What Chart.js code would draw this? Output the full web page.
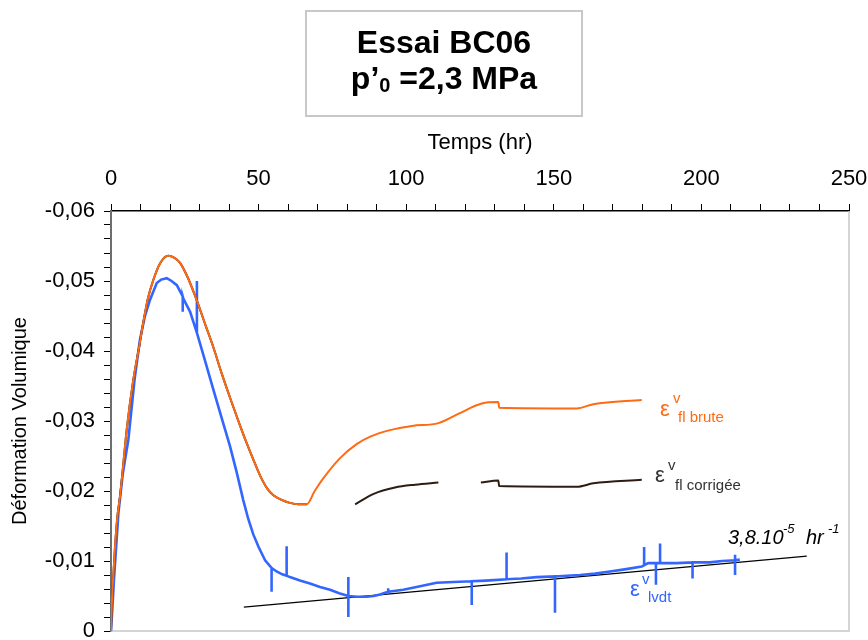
<!DOCTYPE html>
<html>
<head>
<meta charset="utf-8">
<script src="https://cdn.jsdelivr.net/npm/chart.js@4.4.0/dist/chart.umd.min.js"></script>
<style>
  html, body { margin: 0; padding: 0; background: #fff; }
  #wrap { position: relative; width: 868px; height: 640px; font-family: "Liberation Sans", Arial, sans-serif; }
  #chart { position: absolute; left: 0; top: 0; }
  .titlebox { position: absolute; left: 305px; top: 10px; width: 274px; height: 103px;
    border: 2px solid #c8c8c8; text-align: center; font-weight: bold; font-size: 32px; line-height: 36px; color: #000; }
  .titlebox .in { padding-top: 12px; }
  .titlebox sub { font-size: 20px; vertical-align: -3px; line-height: 0; }
  .t { position: absolute; line-height: 1; white-space: nowrap; }
</style>
</head>
<body>
<div id="wrap">
  <canvas id="chart" width="868" height="640"></canvas>
  <div class="titlebox"><div class="in">Essai BC06<br>p’<sub>0</sub> =2,3 MPa</div></div>

  <!-- curve labels -->
  <div class="t" style="left:660px; top:398px; font-size:22px; color:#ff6a13;">ε</div>
  <div class="t" style="left:673px; top:390px; font-size:15px; color:#ff6a13;">v</div>
  <div class="t" style="left:678px; top:409px; font-size:15px; color:#ff6a13;">fl brute</div>

  <div class="t" style="left:655px; top:464px; font-size:22px; color:#333;">ε</div>
  <div class="t" style="left:668px; top:457px; font-size:15px; color:#333;">v</div>
  <div class="t" style="left:675px; top:477px; font-size:15px; color:#333;">fl corrigée</div>

  <div class="t" style="left:630px; top:578px; font-size:22px; color:#3366ff;">ε</div>
  <div class="t" style="left:642px; top:571px; font-size:15px; color:#3366ff;">v</div>
  <div class="t" style="left:648px; top:589px; font-size:15px; color:#3366ff;">lvdt</div>

  <div class="t" style="left:728px; top:527px; font-size:20px; font-style:italic; color:#000;">3,8.10</div>
  <div class="t" style="left:783px; top:522px; font-size:13px; font-style:italic; color:#000;">-5</div>
  <div class="t" style="left:806px; top:527px; font-size:20px; font-style:italic; color:#000;">hr</div>
  <div class="t" style="left:828px; top:522px; font-size:13px; font-style:italic; color:#000;">-1</div>
</div>

<script>
// Temps (hr) et déformation volumique
const tMain = [0, 0.3, 0.57, 1.35, 2.2, 3.05, 4.2, 5.3, 7.56, 9.5, 10.9, 12.5, 14.3, 16.6, 19.4, 21.5, 23.4, 26, 29, 32, 34.7, 37.5, 40.6, 43.5, 46, 48.5, 50.5, 53, 55, 58, 60.6, 63.5, 66.3];
const vMain = [0, -0.004, -0.0063, -0.012, -0.0165, -0.0192, -0.024, -0.0287, -0.0359, -0.0405, -0.044, -0.0475, -0.0501, -0.0525, -0.0536, -0.0533, -0.0526, -0.0505, -0.0473, -0.0437, -0.0405, -0.0368, -0.033, -0.0296, -0.0268, -0.0242, -0.0222, -0.0203, -0.0194, -0.0187, -0.0183, -0.0181, -0.0181];

// fluage brut (suite apres 66 h)
const tBrute = [69, 71.9, 77.6, 83.2, 88, 94.5, 102, 110.9, 118, 125.6, 131.2, 131.5, 157.8, 163.4, 179.8];
const vBrute = [-0.02, -0.0218, -0.0247, -0.0267, -0.0278, -0.0287, -0.0293, -0.0297, -0.0311, -0.0325, -0.0327, -0.0319, -0.0318, -0.0324, -0.033];

// fluage corrige (null = interruption)
const tCorr = [82.7, 89, 96.2, 103, 110.9, 118, 125.3, 131.2, 131.5, 157.8, 163.4, 179.8];
const vCorr = [-0.0181, -0.0196, -0.0205, -0.0209, -0.0212, null, -0.0212, -0.0215, -0.0207, -0.0206, -0.0211, -0.0216];

// LVDT (les pics sont des points repetes au meme temps)
const tLvdt = [0, 0.5, 1, 2.5, 4, 5.87, 8, 9.8, 11.5, 13.2, 15.5, 17, 18.9, 20.5, 22.3, 24.3, 24.3, 24.3, 24.5, 26.8, 29.1, 29.1, 29.1, 31.8, 34.6, 37.3, 40.3, 42.5, 44.8, 46.5, 48.2, 50, 52.2, 54.4, 54.4, 54.4, 56.1, 58, 59.5, 59.5, 59.5, 60.6, 64, 67.4, 70.8, 74.2, 77.3, 80.4, 80.4, 80.4, 80.4, 83.5, 86.6, 89, 91.1, 93.9, 93.9, 93.9, 99, 104.7, 110.3, 116, 122.2, 122.2, 122.2, 127, 134, 134, 134, 139, 144.2, 150.4, 150.4, 150.4, 154.4, 158.9, 164, 169, 174, 179.8, 180.6, 180.6, 180.6, 182, 184.6, 184.6, 184.6, 186, 186, 186, 191.6, 197, 197, 197, 202.9, 207, 211.4, 211.4, 211.4, 211.4, 213];
const vLvdt = [0, -0.0035, -0.0073, -0.0168, -0.0225, -0.0273, -0.036, -0.0416, -0.045, -0.0473, -0.0497, -0.0502, -0.0504, -0.05, -0.0494, -0.0478, -0.0456, -0.0478, -0.0475, -0.0456, -0.0426, -0.05, -0.0426, -0.0387, -0.0346, -0.0307, -0.0264, -0.0228, -0.0187, -0.016, -0.0138, -0.012, -0.0101, -0.009, -0.0056, -0.009, -0.0085, -0.0081, -0.0079, -0.0121, -0.0079, -0.0077, -0.0072, -0.0068, -0.0063, -0.0059, -0.0054, -0.005, -0.0077, -0.002, -0.005, -0.0049, -0.0049, -0.005, -0.0052, -0.0056, -0.0061, -0.0056, -0.0059, -0.0064, -0.0069, -0.007, -0.0071, -0.0037, -0.0071, -0.0072, -0.0074, -0.0112, -0.0074, -0.0075, -0.0077, -0.0078, -0.0026, -0.0078, -0.0079, -0.008, -0.0082, -0.0085, -0.0088, -0.0092, -0.0094, -0.012, -0.0094, -0.0097, -0.0097, -0.0066, -0.0097, -0.0097, -0.0125, -0.0097, -0.0097, -0.0098, -0.0075, -0.0098, -0.0098, -0.01, -0.0101, -0.0109, -0.008, -0.0101, -0.0102];

// pente 3,8.10-5 hr-1
const tPente = [45, 235.7];
const vPente = [-0.0034, -0.0107];

const xTicks = [0, 50, 100, 150, 200, 250];

function pts(ts, vs) {
    return ts.map((t, i) => ({ x: t, y: vs[i] }));
}

const fontAxis = { family: '"Liberation Sans", Arial, sans-serif', size: 22 };

const frame = {
    id: 'frame',
    beforeDatasetsDraw(chart) {
        const a = chart.chartArea, ctx = chart.ctx;
        ctx.save();
        ctx.strokeStyle = '#c8c8c8';
        ctx.lineWidth = 1.5;
        ctx.beginPath();
        ctx.moveTo(a.left, a.bottom);
        ctx.lineTo(a.right, a.bottom);
        ctx.lineTo(a.right, a.top);
        ctx.stroke();
        ctx.restore();
    }
};

const ctx = document.getElementById('chart');
new Chart(ctx, {
    type: 'scatter',
    data: {
        datasets: [
            {
                label: 'brute',
                data: pts(tMain.concat(tBrute), vMain.concat(vBrute)),
                showLine: true, borderColor: '#ff6a13', borderWidth: 2, pointRadius: 0,
                cubicInterpolationMode: 'monotone'
            },
            {
                label: 'corrigee',
                data: pts(tMain, vMain).concat([{ x: 74, y: null }], pts(tCorr, vCorr)),
                showLine: true, borderColor: '#2e1c12', borderWidth: 2, pointRadius: 0, spanGaps: false,
                cubicInterpolationMode: 'monotone'
            },
            {
                label: 'lvdt',
                data: pts(tLvdt, vLvdt),
                showLine: true, borderColor: '#3366ff', borderWidth: 2.6, pointRadius: 0
            },
            {
                label: 'pente',
                data: pts(tPente, vPente),
                showLine: true, borderColor: '#000', borderWidth: 1.2, pointRadius: 0
            }
        ]
    },
    options: {
        responsive: false,
        animation: false,
        layout: { padding: { left: 8, right: 19, top: 128, bottom: 9 } },
        plugins: { legend: { display: false }, tooltip: { enabled: false } },
        scales: {
            x: {
                type: 'linear', position: 'top', min: 0, max: 250,
                afterFit(scale) { scale.height = 83; scale.paddingLeft = 0; scale.paddingRight = 0; },
                title: { display: true, text: 'Temps (hr)', color: '#000', font: fontAxis, padding: { top: 2, bottom: 0 } },
                ticks: {
                    stepSize: 10, autoSkip: false, maxRotation: 0, color: '#000', font: fontAxis, padding: 12,
                    callback: v => xTicks.includes(v) ? String(v) : ''
                },
                grid: { drawOnChartArea: false, tickLength: 7, tickColor: '#000', tickWidth: 1 },
                border: { color: '#000', width: 1.5 }
            },
            y: {
                type: 'linear', reverse: true, min: -0.06, max: 0,
                afterFit(scale) { scale.width = 103; scale.paddingTop = 0; scale.paddingBottom = 0; },
                title: { display: true, text: 'Déformation Volumique', color: '#000', font: { family: fontAxis.family, size: 20 }, padding: 0 },
                ticks: {
                    stepSize: 0.002, autoSkip: false, color: '#000', font: fontAxis, padding: 9,
                    callback: function (v) {
                        const h = Math.round(v * 1000);
                        if (h % 10 !== 0) return '';
                        return h === 0 ? '0' : (h / 1000).toFixed(2).replace('.', ',');
                    }
                },
                grid: { drawOnChartArea: false, tickLength: 7, tickColor: '#000', tickWidth: 1 },
                border: { color: '#6e6e6e', width: 2 }
            }
        }
    },
    plugins: [frame]
});
</script>
</body>
</html>
